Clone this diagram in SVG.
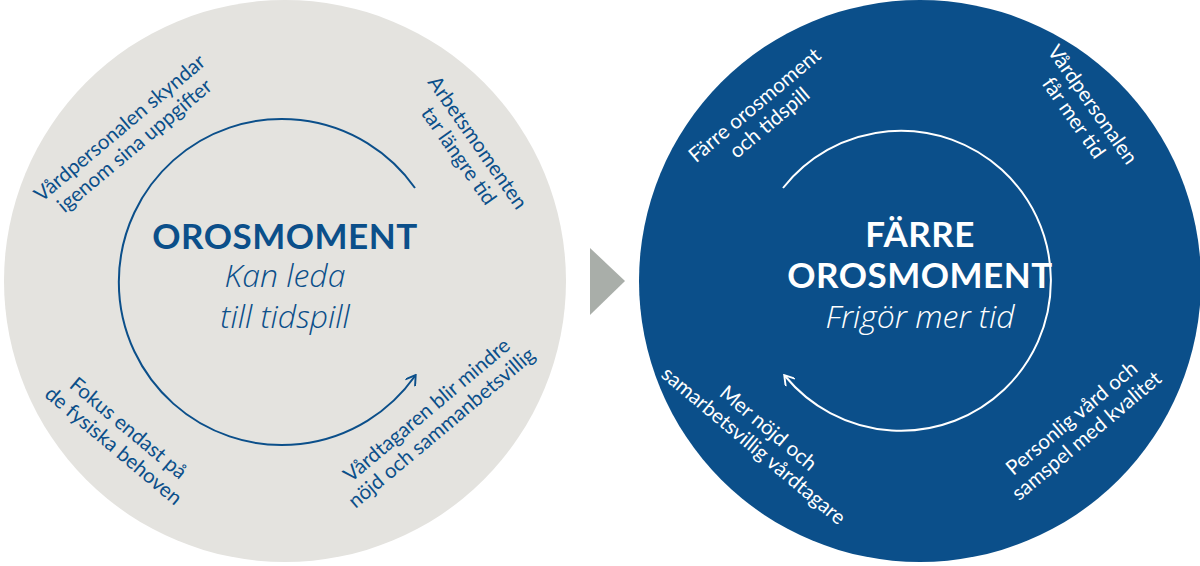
<svg xmlns="http://www.w3.org/2000/svg" width="1200" height="566" viewBox="0 0 1200 566">
<style>
.s{font-family:Lato,"Open Sans",sans-serif;font-size:20.5px;text-anchor:middle}
.l{fill:#0b4f8a}.w{fill:#fff}
.b{font-family:Lato,sans-serif;font-weight:bold;font-size:35px;text-anchor:middle;letter-spacing:0.5px}
.i{font-family:"Open Sans",sans-serif;font-style:italic;font-weight:300;font-size:32px;text-anchor:middle}
</style>
<defs>
<marker id="aw" viewBox="0 0 10 10" refX="8" refY="5" markerWidth="12" markerHeight="12" orient="auto" markerUnits="userSpaceOnUse"><path d="M1,0L9,5L1,10" fill="none" stroke="#fff" stroke-width="1.6"/></marker>
<marker id="ab" viewBox="0 0 10 10" refX="8" refY="5" markerWidth="12" markerHeight="12" orient="auto" markerUnits="userSpaceOnUse"><path d="M1,0L9,5L1,10" fill="none" stroke="#0b4f8a" stroke-width="1.6"/></marker>
</defs>
<g id="left">
<circle cx="285" cy="281" r="281" fill="#e4e3df"/>
<text class="b l" x="285" y="249">OROSMOMENT</text>
<text class="i l" x="285" y="287">Kan leda</text>
<text class="i l" x="285" y="328">till tidspill</text>
<text class="s l" transform="translate(128,138) rotate(-40)"><tspan x="0" y="-6">Vårdpersonalen skyndar</tspan><tspan x="0" y="17">igenom sina uppgifter</tspan></text>
<text class="s l" transform="translate(467,150) rotate(55)"><tspan x="0" y="-6">Arbetsmomenten</tspan><tspan x="0" y="17">tar längre tid</tspan></text>
<text class="s l" transform="translate(120,438) rotate(40)"><tspan x="0" y="-6">Fokus endast på</tspan><tspan x="0" y="17">de fysiska behoven</tspan></text>
<text class="s l" transform="translate(435,420) rotate(-40)"><tspan x="0" y="-6">Vårdtagaren blir mindre</tspan><tspan x="0" y="17">nöjd och sammanbetsvillig</tspan></text>
</g>
<g id="arrow"><polygon points="590,248 625,281 590,315" fill="#a9aea9"/></g>
<g id="right">
<circle cx="920" cy="281" r="281" fill="#0b4f8a"/>
<text class="b w" x="920" y="247">FÄRRE</text>
<text class="b w" x="920" y="288">OROSMOMENT</text>
<text class="i w" x="920" y="328">Frigör mer tid</text>
<text class="s w" transform="translate(763,115) rotate(-40)"><tspan x="0" y="-6">Färre orosmoment</tspan><tspan x="0" y="17">och tidspill</tspan></text>
<text class="s w" transform="translate(1082,112) rotate(55)"><tspan x="0" y="-6">Vårdpersonalen</tspan><tspan x="0" y="17">får mer tid</tspan></text>
<text class="s w" transform="translate(760,438) rotate(40)"><tspan x="0" y="-6">Mer nöjd och</tspan><tspan x="0" y="17">samarbetsvillig vårdtagare</tspan></text>
<text class="s w" transform="translate(1080,428) rotate(-40)"><tspan x="0" y="-6">Personlig vård och</tspan><tspan x="0" y="17">samspel med kvalitet</tspan></text>
</g>
<g id="connectors" fill="none" stroke-width="2">
<path d="M415,188 A163,163 0 1 0 415,376" stroke="#0b4f8a" marker-end="url(#ab)"/>
<path d="M783,188 A150,150 0 1 1 785,376" stroke="#fff" marker-end="url(#aw)"/>
</g>
</svg>
